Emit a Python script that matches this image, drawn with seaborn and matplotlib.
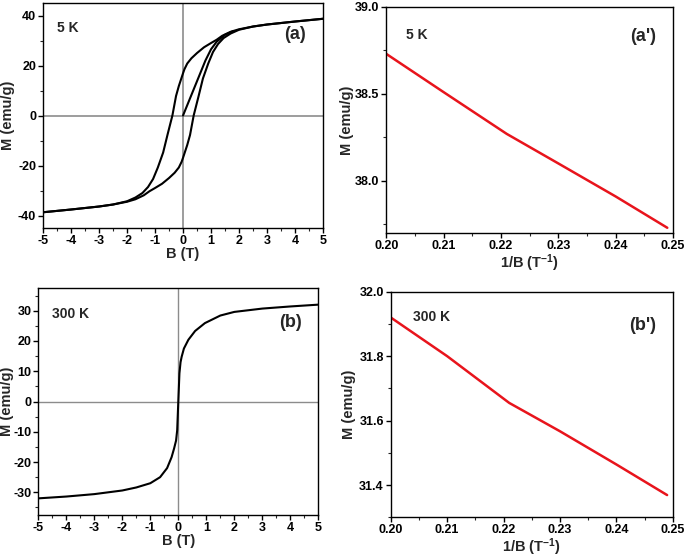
import matplotlib
matplotlib.use("Agg")
import matplotlib.pyplot as plt
from matplotlib.ticker import MultipleLocator, FormatStrFormatter
import seaborn as sns
import pandas as pd

# (a) 5 K hysteresis loop
b_down = [5, 4, 3, 2.5, 2, 1.7, 1.4, 1.2, 1.0, 0.75, 0.5, 0.3, 0.15, 0.05, 0,
          -0.05, -0.15, -0.25, -0.38, -0.55, -0.71, -0.9, -1.07, -1.25, -1.45,
          -1.7, -2.0, -2.5, -3, -4, -5]
m_down = [38.7, 37.6, 36.4, 35.6, 34.5, 33.5, 31.9, 30.3, 29.0, 27.3, 25.0, 22.9,
          20.8, 18.5, 16.9, 15.2, 11.8, 7.8, 0, -7.5, -14.8, -20.8, -25.4, -28.6,
          -31.0, -32.8, -34.3, -35.6, -36.4, -37.6, -38.7]
b_up = [-5, -4, -3, -2.5, -2, -1.7, -1.4, -1.2, -1.0, -0.75, -0.5, -0.3, -0.15,
        -0.05, 0, 0.05, 0.15, 0.25, 0.38, 0.55, 0.71, 0.9, 1.07, 1.25, 1.45, 1.7,
        2.0, 2.5, 3, 4, 5]
m_up = [-38.7, -37.6, -36.4, -35.6, -34.5, -33.5, -31.9, -30.3, -29.0, -27.3,
        -25.0, -22.9, -20.8, -18.5, -16.9, -15.2, -11.8, -7.8, 0, 7.5, 14.8, 20.8,
        25.4, 28.6, 31.0, 32.8, 34.3, 35.6, 36.4, 37.6, 38.7]
b_init = [0, 0.2, 0.4, 0.6, 0.8, 1.0, 1.2, 1.5, 1.8]
m_init = [0, 5.5, 11.0, 16.5, 22.0, 26.5, 29.5, 32.3, 33.8]

# (a') 5 K, M vs 1/B
inv_b_a = [0.200, 0.210, 0.221, 0.230, 0.240, 0.249]
m_inv_a = [38.73, 38.51, 38.27, 38.10, 37.91, 37.73]

# (b) 300 K loop
b_300 = [-5, -4, -3, -2, -1.5, -1.0, -0.65, -0.4, -0.24, -0.15, -0.08, -0.04, 0,
         0.04, 0.08, 0.12, 0.2, 0.36, 0.6, 0.95, 1.5, 2, 3, 4, 5]
m_300 = [-32.0, -31.4, -30.6, -29.4, -28.4, -27.0, -25.0, -22.0, -18.4, -15.5,
         -12.9, -9.5, 0, 9.3, 13.0, 14.8, 17.5, 20.4, 23.3, 25.9, 28.4, 29.6,
         30.7, 31.4, 32.0]

# (b') 300 K, M vs 1/B
inv_b_b = [0.200, 0.210, 0.221, 0.230, 0.240, 0.249]
m_inv_b = [31.92, 31.80, 31.655, 31.567, 31.464, 31.369]

sns.set_theme(style="ticks")
plt.rcParams["font.family"] = ["Liberation Sans", "DejaVu Sans"]
plt.rcParams["font.weight"] = "bold"
plt.rcParams["axes.labelweight"] = "bold"
plt.rcParams["axes.unicode_minus"] = False
plt.rcParams["mathtext.fontset"] = "custom"
plt.rcParams["mathtext.bf"] = "Liberation Sans:bold"
plt.rcParams["mathtext.rm"] = "Liberation Sans:bold"
plt.rcParams["mathtext.default"] = "bf"

fig = plt.figure(figsize=(6.85, 5.59), dpi=100)
ax_a = fig.add_axes([0.0628, 0.5921, 0.4088, 0.4025])
ax_a2 = fig.add_axes([0.5640, 0.5832, 0.4185, 0.4043])
ax_b = fig.add_axes([0.0559, 0.0787, 0.4088, 0.4061])
ax_b2 = fig.add_axes([0.5704, 0.0746, 0.4117, 0.4036])


def style_axes(ax, ylab_x):
    for sp in ax.spines.values():
        sp.set_visible(True)
        sp.set_color("black")
        sp.set_linewidth(1.0)
    ax.tick_params(which="major", direction="out", length=3.5, width=1, pad=1.5,
                   labelsize=9, colors="black", top=False, right=False)
    ax.tick_params(which="minor", direction="out", length=2.2, width=0.8,
                   top=False, right=False)
    for lab in ax.get_xticklabels() + ax.get_yticklabels():
        lab.set_fontweight("bold")
    ax.xaxis.label.set_size(10.5)
    ax.yaxis.label.set_size(10.5)
    ax.xaxis.labelpad = 0
    # right edge of the rotated y label, in axes fraction
    ax.yaxis.set_label_coords(ylab_x, 0.5)


# panel (a)
df_down = pd.DataFrame({"B": b_down, "M": m_down})
df_up = pd.DataFrame({"B": b_up, "M": m_up})
df_init = pd.DataFrame({"B": b_init, "M": m_init})
ax_a.axhline(0, color="#8c8c8c", linewidth=1.2, zorder=1)
ax_a.axvline(0, color="#8c8c8c", linewidth=1.2, zorder=1)
for d in (df_down, df_up, df_init):
    sns.lineplot(data=d, x="B", y="M", sort=False, estimator=None,
                 color="black", linewidth=1.5, ax=ax_a)
ax_a.set_xlim(-5, 5)
ax_a.set_ylim(-45, 45)
ax_a.xaxis.set_major_locator(MultipleLocator(1))
ax_a.xaxis.set_minor_locator(MultipleLocator(0.5))
ax_a.yaxis.set_major_locator(MultipleLocator(20))
ax_a.yaxis.set_minor_locator(MultipleLocator(10))
ax_a.set_xlabel("B (T)")
ax_a.set_ylabel("M (emu/g)")
ax_a.text(0.05, 0.87, "5 K", transform=ax_a.transAxes, fontsize=10, fontweight="bold")
ax_a.text(0.94, 0.84, "(a)", transform=ax_a.transAxes, fontsize=13,
          fontweight="bold", ha="right")
style_axes(ax_a, -0.10)

# panel (a')
sns.lineplot(x=inv_b_a, y=m_inv_a, sort=False, estimator=None, color="#e8141c",
             linewidth=1.8, ax=ax_a2)
ax_a2.set_xlim(0.2, 0.25)
ax_a2.set_ylim(37.7, 39.0)
ax_a2.xaxis.set_major_locator(MultipleLocator(0.01))
ax_a2.xaxis.set_minor_locator(MultipleLocator(0.005))
ax_a2.yaxis.set_major_locator(MultipleLocator(0.5))
ax_a2.yaxis.set_minor_locator(MultipleLocator(0.25))
ax_a2.xaxis.set_major_formatter(FormatStrFormatter("%.2f"))
ax_a2.yaxis.set_major_formatter(FormatStrFormatter("%.1f"))
ax_a2.set_xlabel("1/B (T$^{-1}$)")
ax_a2.set_ylabel("M (emu/g)")
ax_a2.text(0.07, 0.86, "5 K", transform=ax_a2.transAxes, fontsize=10, fontweight="bold")
ax_a2.text(0.94, 0.85, "(a')", transform=ax_a2.transAxes, fontsize=13,
           fontweight="bold", ha="right")
style_axes(ax_a2, -0.113)

# panel (b)
df_300 = pd.DataFrame({"B": b_300, "M": m_300})
ax_b.axhline(0, color="#8c8c8c", linewidth=1.0, zorder=1)
ax_b.axvline(0, color="#8c8c8c", linewidth=1.0, zorder=1)
sns.lineplot(data=df_300, x="B", y="M", sort=False, estimator=None,
             color="black", linewidth=1.5, ax=ax_b)
ax_b.set_xlim(-5, 5)
ax_b.set_ylim(-37.5, 37.5)
ax_b.xaxis.set_major_locator(MultipleLocator(1))
ax_b.xaxis.set_minor_locator(MultipleLocator(0.5))
ax_b.yaxis.set_major_locator(MultipleLocator(10))
ax_b.yaxis.set_minor_locator(MultipleLocator(5))
ax_b.set_xlabel("B (T)")
ax_b.set_ylabel("M (emu/g)")
ax_b.text(0.05, 0.87, "300 K", transform=ax_b.transAxes, fontsize=10, fontweight="bold")
ax_b.text(0.94, 0.83, "(b)", transform=ax_b.transAxes, fontsize=13,
          fontweight="bold", ha="right")
style_axes(ax_b, -0.087)

# panel (b')
sns.lineplot(x=inv_b_b, y=m_inv_b, sort=False, estimator=None, color="#e8141c",
             linewidth=1.8, ax=ax_b2)
ax_b2.set_xlim(0.2, 0.25)
ax_b2.set_ylim(31.3, 32.0)
ax_b2.xaxis.set_major_locator(MultipleLocator(0.01))
ax_b2.xaxis.set_minor_locator(MultipleLocator(0.005))
ax_b2.yaxis.set_major_locator(MultipleLocator(0.2))
ax_b2.yaxis.set_minor_locator(MultipleLocator(0.1))
ax_b2.xaxis.set_major_formatter(FormatStrFormatter("%.2f"))
ax_b2.yaxis.set_major_formatter(FormatStrFormatter("%.1f"))
ax_b2.set_xlabel("1/B (T$^{-1}$)")
ax_b2.set_ylabel("M (emu/g)")
ax_b2.text(0.08, 0.87, "300 K", transform=ax_b2.transAxes, fontsize=10, fontweight="bold")
ax_b2.text(0.94, 0.83, "(b')", transform=ax_b2.transAxes, fontsize=13,
           fontweight="bold", ha="right")
style_axes(ax_b2, -0.123)

fig.savefig("out.png", dpi=100)
